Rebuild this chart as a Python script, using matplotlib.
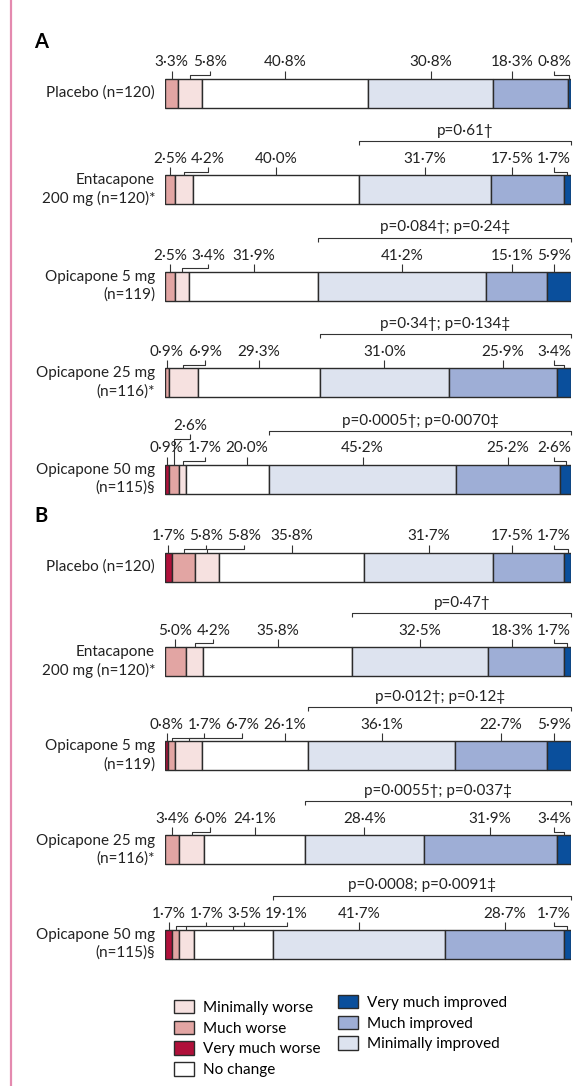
import matplotlib.pyplot as plt
from matplotlib.lines import Line2D

plt.rcParams['font.family'] = ['Lato', 'DejaVu Sans']

# categories in bar order (left to right)
categories = ["Very much worse", "Much worse", "Minimally worse", "No change",
              "Minimally improved", "Much improved", "Very much improved"]
colors = ["#B0103A", "#E2A5A3", "#F6E1E0", "#FFFFFF", "#DDE3EF", "#9EAED6", "#0A4F9C"]

groups = ["Placebo (n=120)", "Entacapone\n200 mg (n=120)*", "Opicapone 5 mg\n(n=119)",
          "Opicapone 25 mg\n(n=116)*", "Opicapone 50 mg\n(n=115)§"]

# panel A (percent of patients per category, 0 = not shown)
placebo_a = [0, 3.3, 5.8, 40.8, 30.8, 18.3, 0.8]
entacapone_a = [0, 2.5, 4.2, 40.0, 31.7, 17.5, 1.7]
opi5_a = [0, 2.5, 3.4, 31.9, 41.2, 15.1, 5.9]
opi25_a = [0, 0.9, 6.9, 29.3, 31.0, 25.9, 3.4]
opi50_a = [0.9, 2.6, 1.7, 20.0, 45.2, 25.2, 2.6]
pvals_a = [None, "p=0·61†", "p=0·084†; p=0·24‡", "p=0·34†; p=0·134‡", "p=0·0005†; p=0·0070‡"]

# panel B
placebo_b = [1.7, 5.8, 5.8, 35.8, 31.7, 17.5, 1.7]
entacapone_b = [0, 5.0, 4.2, 35.8, 32.5, 18.3, 1.7]
opi5_b = [0.8, 1.7, 6.7, 26.1, 36.1, 22.7, 5.9]
opi25_b = [0, 3.4, 6.0, 24.1, 28.4, 31.9, 3.4]
opi50_b = [1.7, 1.7, 3.5, 19.1, 41.7, 28.7, 1.7]
pvals_b = [None, "p=0·47†", "p=0·012†; p=0·12‡", "p=0·0055†; p=0·037‡", "p=0·0008; p=0·0091‡"]

panels = [("A", [placebo_a, entacapone_a, opi5_a, opi25_a, opi50_a], pvals_a, 93, 96.5),
          ("B", [placebo_b, entacapone_b, opi5_b, opi25_b, opi50_b], pvals_b, 567, 94.25)]

# labels lifted to a second row: (panel, row) -> category index
raised = {(0, 4): 1}

W, H = 576, 1086
X0, X1 = 165, 571
px = 100 / (X1 - X0)
bar_h = 29
edge = "#2b2b2b"
ink = "#333333"
txt = "#222222"

fig = plt.figure(figsize=(W / 100, H / 100), dpi=100)
ax = fig.add_axes([X0 / W, 0, (X1 - X0) / W, 1])
ax.set_xlim(0, 100)
ax.set_ylim(H, 0)
ax.axis("off")
renderer = fig.canvas.get_renderer()

fig.add_artist(Line2D([11 / W, 11 / W], [0, 1], color="#E48AAF", lw=1.6))

handles = {}


def line(xs, ys):
    ax.plot(xs, ys, color=ink, lw=0.8, solid_capstyle="butt", clip_on=False)


for p, (letter, rows, pvals, y0, step) in enumerate(panels):
    fig.text(34 / W, 1 - (y0 - 51) / H, letter, fontsize=14.5, fontweight="bold", va="center")
    for i, row in enumerate(rows):
        y = y0 + step * i
        top = y - bar_h / 2
        total = sum(row)
        left = 0
        segs = []
        for k, v in enumerate(row):
            w = v / total * 100
            if v > 0:
                handles[k] = ax.barh(y, w, left=left, height=bar_h, color=colors[k],
                                     edgecolor=edge, linewidth=1.0)
                segs.append((k, v, left, left + w))
            left += w

        ax.text(-10 * px, y, groups[i], ha="right", va="center", fontsize=11,
                linespacing=1.35, color=txt)

        # percentage labels
        texts = []
        for k, v, l, r in segs:
            t = ax.text((l + r) / 2, top - 9, f"{v:.1f}%".replace(".", "·"), ha="center",
                        va="bottom", fontsize=11, color=txt)
            wpx = t.get_window_extent(renderer).width * px
            texts.append([t, k, l, r, (l + r) / 2, wpx])

        lift = raised.get((p, i))
        flat = [e for e in texts if e[1] != lift]
        xs = [e[4] for e in flat]
        gap = 4 * px
        for j in range(1, len(xs)):
            xs[j] = max(xs[j], xs[j - 1] + (flat[j - 1][5] + flat[j][5]) / 2 + gap)
        xs[-1] = min(xs[-1], 100 - flat[-1][5] / 2)
        for j in range(len(xs) - 2, -1, -1):
            xs[j] = min(xs[j], xs[j + 1] - (flat[j][5] + flat[j + 1][5]) / 2 - gap)

        for e, xl in zip(flat, xs):
            t, k, l, r, c, wpx = e
            t.set_x(xl)
            if l + 1 * px <= xl <= r - 1 * px:
                line([xl, xl], [top, top - 8])
            else:
                line([c, c, xl, xl], [top, top - 3.5, top - 3.5, top - 8])
        for e in texts:
            if e[1] == lift:
                t, k, l, r, c, wpx = e
                xl = c + 16 * px
                t.set_x(xl)
                t.set_y(top - 32)
                line([c, c, xl, xl], [top, top - 26, top - 26, top - 31])

        if pvals[i]:
            start = [s for s in segs if s[0] == 4][0][2]
            by = top - 34
            line([start, start, 100, 100], [by + 4, by, by, by + 4])
            ax.text((start + 100) / 2, by - 3, pvals[i], ha="center", va="bottom",
                    fontsize=11, color=txt)

legend_kw = dict(frameon=False, fontsize=11, handlelength=1.35, handleheight=1.0,
                 labelspacing=0.38, handletextpad=0.6, borderpad=0, loc="upper left")
left_order = [2, 1, 0, 3]
right_order = [6, 5, 4]
leg1 = fig.legend([handles[k] for k in left_order], [categories[k] for k in left_order],
                  bbox_to_anchor=(166 / W, 1 - 992 / H), **legend_kw)
leg2 = fig.legend([handles[k] for k in right_order], [categories[k] for k in right_order],
                  bbox_to_anchor=(330 / W, 1 - 987 / H), **legend_kw)

fig.savefig("out.png", dpi=100)
